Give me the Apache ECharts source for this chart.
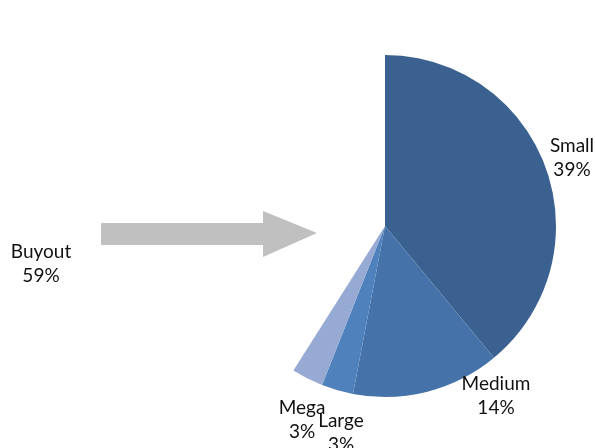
<!DOCTYPE html>
<html>
<head>
<meta charset="utf-8">
<script src="https://cdn.jsdelivr.net/npm/echarts@6/dist/echarts.min.js"></script>
<style>
  html, body { margin: 0; padding: 0; background: #ffffff; }
  #chart { width: 595px; height: 448px; }
</style>
</head>
<body>
<div id="chart"></div>
<script>
// Buyout segment split by fund size (share of all funds, %)
const categories = ['Small', 'Medium', 'Large', 'Mega'];
const shares = [39, 14, 3, 3];
const sliceColors = ['#3B6191', '#4573A9', '#4F81BD', '#97AAD3'];
const groupName = 'Buyout';

// Label anchors (centre of each two-line label)
const labelAnchors = {
  Small: [572, 158],
  Medium: [496, 396],
  Large: [341, 433],
  Mega: [302, 420]
};

const total = shares.reduce((a, b) => a + b, 0);
const rest = 100 - total;

const font = 'Lato, "Open Sans", sans-serif';

const pieData = categories.map((name, i) => ({
  name: name,
  value: shares[i],
  itemStyle: { color: sliceColors[i] }
}));
// Remaining share of the whole, left blank
pieData.push({
  name: 'rest',
  value: rest,
  itemStyle: { color: 'transparent' },
  label: { show: false },
  emphasis: { disabled: true }
});

const chart = echarts.init(document.getElementById('chart'), null, { renderer: 'canvas' });

chart.setOption({
  animation: false,
  backgroundColor: '#ffffff',
  graphic: [
    {
      // grey pointer arrow towards the pie
      type: 'polygon',
      shape: {
        points: [[101, 223], [263, 223], [263, 211], [317, 233], [263, 257], [263, 245], [101, 245]]
      },
      style: { fill: '#C0C0C0' }
    },
    {
      type: 'text',
      x: 41,
      y: 264,
      style: {
        text: groupName + '\n' + total + '%',
        fill: '#111111',
        font: '19px ' + font,
        textAlign: 'center',
        textVerticalAlign: 'middle',
        lineHeight: 24
      }
    }
  ],
  series: [
    {
      type: 'pie',
      center: [385, 226],
      radius: [0, 171],
      startAngle: 90,
      clockwise: true,
      avoidLabelOverlap: false,
      silent: true,
      itemStyle: { borderWidth: 0 },
      label: {
        show: true,
        position: 'outside',
        formatter: '{b}\n{c}%',
        color: '#111111',
        fontFamily: font,
        fontSize: 19,
        lineHeight: 24,
        align: 'center'
      },
      labelLine: { show: false },
      labelLayout: function (params) {
        const name = categories[params.dataIndex];
        const a = labelAnchors[name];
        if (!a) return {};
        return { x: a[0], y: a[1], align: 'center', verticalAlign: 'middle' };
      },
      data: pieData
    }
  ]
});
</script>
</body>
</html>
